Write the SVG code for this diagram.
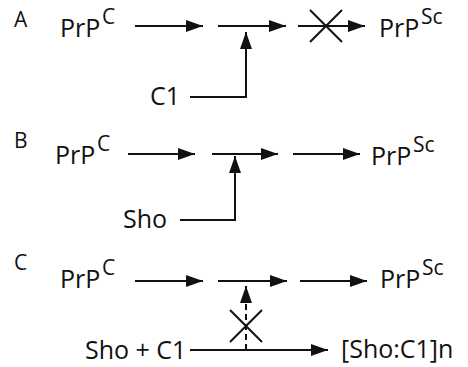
<svg xmlns="http://www.w3.org/2000/svg" width="468" height="367" viewBox="0 0 468 367">
<defs>
<marker id="ah" markerUnits="userSpaceOnUse" markerWidth="19" markerHeight="13" refX="17" refY="6" orient="auto">
<path d="M0,0 L17,6 L0,12 z" fill="#111"/>
</marker>
<style>
text{font-family:"Open Sans","Noto Sans","Liberation Sans",sans-serif;fill:#111}
.lbl{font-size:21px}
.main{font-size:25px}
.sup{font-size:21px}
.ln{stroke:#111;stroke-width:2;fill:none}
.arr{stroke:#111;stroke-width:2;fill:none;marker-end:url(#ah)}
.dash{stroke:#111;stroke-width:2;fill:none;stroke-dasharray:6,4;marker-end:url(#ah)}
</style>
</defs>
<g id="panelA">
<text class="lbl" x="14" y="27">A</text>
<g id="A_prpc"><text class="main" x="60" y="37">PrP</text><text class="sup" x="102" y="24">C</text></g>
<g id="A_c1"><text class="main" x="150" y="105">C1</text></g>
<g id="A_prpsc"><text class="main" x="379" y="37">PrP</text><text class="sup" x="421" y="24">Sc</text></g>
</g>
<g id="panelB">
<text class="lbl" x="14" y="148">B</text>
<g id="B_prpc"><text class="main" x="55" y="164">PrP</text><text class="sup" x="97" y="151">C</text></g>
<g id="B_sho"><text class="main" x="123" y="228">Sho</text></g>
<g id="B_prpsc"><text class="main" x="371" y="165">PrP</text><text class="sup" x="413" y="152">Sc</text></g>
</g>
<g id="panelC">
<text class="lbl" x="14" y="270">C</text>
<g id="C_prpc"><text class="main" x="60" y="288">PrP</text><text class="sup" x="102" y="275">C</text></g>
<g id="C_shoc1"><text class="main" x="85" y="359">Sho + C1</text></g>
<g id="C_complex"><text class="main" x="341" y="358">[Sho:C1]n</text></g>
<g id="C_prpsc"><text class="main" x="380" y="288">PrP</text><text class="sup" x="422" y="275">Sc</text></g>
</g>
<g id="connectors">
<line class="arr" x1="135" y1="26" x2="203" y2="26"/>
<line class="arr" x1="218" y1="26" x2="286" y2="26"/>
<polyline class="arr" points="190,97 246,97 246,32"/>
<line class="arr" x1="298" y1="26" x2="365" y2="26"/>
<path class="ln" d="M310,10 L342,42 M342,10 L310,42"/>
<line class="arr" x1="128" y1="154" x2="195" y2="154"/>
<line class="arr" x1="212" y1="154" x2="278" y2="154"/>
<line class="arr" x1="293" y1="154" x2="360" y2="154"/>
<polyline class="arr" points="180,220 235,220 235,156"/>
<line class="arr" x1="135" y1="281" x2="203" y2="281"/>
<line class="arr" x1="218" y1="281" x2="287" y2="281"/>
<line class="arr" x1="300" y1="281" x2="367" y2="281"/>
<line class="arr" x1="190" y1="350" x2="328" y2="350"/>
<line class="dash" x1="246" y1="350" x2="246" y2="286"/>
<path class="ln" d="M230,310 L262,342 M262,310 L230,342"/>
</g>
</svg>
